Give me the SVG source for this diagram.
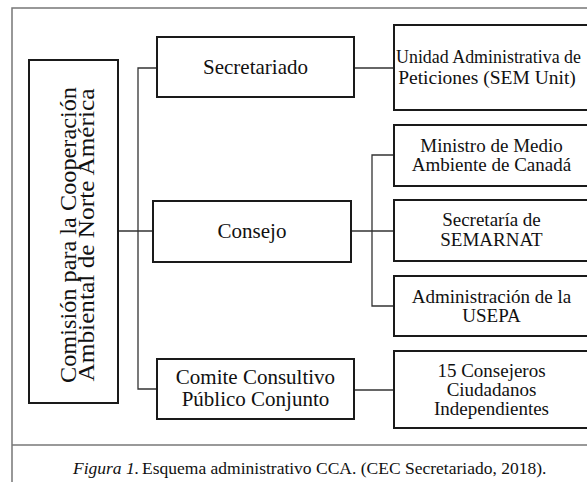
<svg xmlns="http://www.w3.org/2000/svg" width="587" height="482" viewBox="0 0 587 482">
<style>
.box{fill:#fff;stroke:#1a1a1a;stroke-width:2}
.t{font-family:"Liberation Serif","Times New Roman",serif;fill:#111;text-anchor:middle}
.conn{fill:none;stroke:#333;stroke-width:1.3}
.frame{fill:none;stroke:#777;stroke-width:1.5}
</style>
<rect x="0" y="0" width="587" height="482" fill="#fff"/>
<g id="frame">
<path class="frame" d="M12,482 V8 H587"/>
<path class="frame" d="M12,445 H587"/>
</g>
<g id="connectors">
<path class="conn" d="M118,231 H153"/>
<path class="conn" d="M157,68 H138 V389 H157"/>
<path class="conn" d="M354,68 H394"/>
<path class="conn" d="M351,231 H394"/>
<path class="conn" d="M394,155 H372 V306 H394"/>
<path class="conn" d="M354,390 H394" stroke="#666"/>
</g>
<g id="cca">
<rect class="box" x="29" y="60" width="89" height="343"/>
<text class="t" font-size="23" transform="translate(76,235) rotate(-90)" textLength="296" lengthAdjust="spacingAndGlyphs">Comisión para la Cooperación</text>
<text class="t" font-size="23" transform="translate(94,235) rotate(-90)" textLength="293" lengthAdjust="spacingAndGlyphs">Ambiental de Norte América</text>
</g>
<g id="secretariado">
<rect class="box" x="157" y="37" width="197" height="60"/>
<text class="t" font-size="21" x="255.5" y="74">Secretariado</text>
</g>
<g id="consejo">
<rect class="box" x="153" y="201" width="198" height="61"/>
<text class="t" font-size="21" x="252" y="238">Consejo</text>
</g>
<g id="comite">
<rect class="box" x="157" y="359" width="197" height="60"/>
<text class="t" font-size="21" x="255.5" y="384">Comite Consultivo</text>
<text class="t" font-size="21" x="255.5" y="406">Público Conjunto</text>
</g>
<g id="unidad">
<rect class="box" x="394" y="25" width="200" height="85"/>
<text class="t" font-size="19" x="396" y="63" style="text-anchor:start" textLength="185" lengthAdjust="spacingAndGlyphs">Unidad Administrativa de</text>
<text class="t" font-size="19.5" x="487" y="84">Peticiones (SEM Unit)</text>
</g>
<g id="ministro">
<rect class="box" x="394" y="125" width="200" height="61"/>
<text class="t" font-size="19" x="491.5" y="152">Ministro de Medio</text>
<text class="t" font-size="19" x="491.5" y="171">Ambiente de Canadá</text>
</g>
<g id="semarnat">
<rect class="box" x="394" y="200" width="200" height="61"/>
<text class="t" font-size="19" x="491.5" y="226">Secretaría de</text>
<text class="t" font-size="19" x="491.5" y="246">SEMARNAT</text>
</g>
<g id="usepa">
<rect class="box" x="394" y="276" width="200" height="60"/>
<text class="t" font-size="19" x="491.5" y="303">Administración de la</text>
<text class="t" font-size="19" x="491.5" y="322">USEPA</text>
</g>
<g id="consejeros">
<rect class="box" x="394" y="351" width="200" height="77"/>
<text class="t" font-size="19" x="491.5" y="377">15 Consejeros</text>
<text class="t" font-size="19" x="491.5" y="396">Ciudadanos</text>
<text class="t" font-size="19" x="491.5" y="415">Independientes</text>
</g>
<g id="caption">
<text class="t" font-size="17.5" x="73" y="474" style="text-anchor:start"><tspan font-style="italic">Figura 1.</tspan><tspan x="142">Esquema administrativo CCA. (CEC Secretariado, 2018).</tspan></text>
</g>
</svg>
